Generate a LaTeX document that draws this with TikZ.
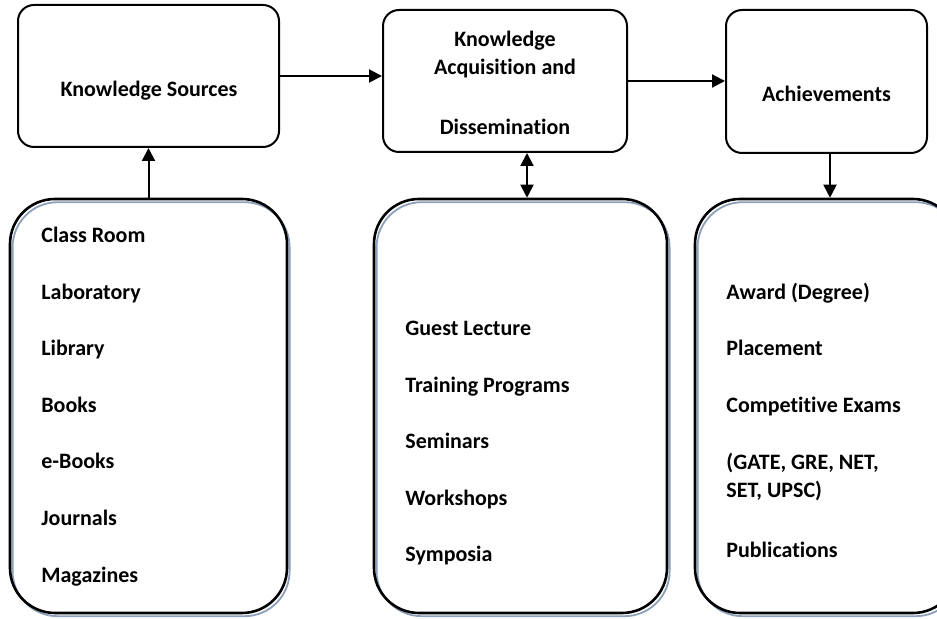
\documentclass[tikz,border=0pt]{standalone}
\usepackage{fontspec}
\setmainfont{Carlito}[Ligatures={NoCommon}]
\usetikzlibrary{arrows.meta}
\definecolor{shadowblue}{RGB}{140,160,185}
\tikzset{
  topbox/.style={draw, rounded corners=8pt, line width=1pt, inner sep=0pt},
  listbox/.style={draw, rounded corners=22.5pt, line width=1.3pt, inner sep=0pt,
    preaction={draw=shadowblue, line width=0.9pt, transform canvas={shift={(1.3pt,-1.6pt)}}}},
  lbl/.style={anchor=base, inner sep=0pt},
  listentry/.style={anchor=base west, inner sep=0pt},
  arr/.style={line width=1pt, -{Triangle[length=6.5pt,width=6.5pt]}},
  dblarr/.style={line width=1pt, {Triangle[length=6.5pt,width=6.5pt]}-{Triangle[length=6.5pt,width=6.5pt]}},
}
\begin{document}
\begin{tikzpicture}[x=0.5pt, y=-0.5pt, font=\fontsize{11}{13}\selectfont\bfseries]

    \useasboundingbox (0,0) rectangle (937,619);
    \clip (0,0) rectangle (937,619);

    \node[topbox, minimum width=130.5pt, minimum height=71pt] (kso) at (148.5,76) {};
    \node[topbox, minimum width=122pt, minimum height=71pt] (kad) at (505,81) {};
    \node[topbox, minimum width=100.5pt, minimum height=71.5pt] (ach) at (826.5,81.5) {};

    \node[lbl] (ksotxt) at (149,97) {Knowledge Sources};
    \node[lbl] (kadtxt1) at (505,47) {Knowledge};
    \node[lbl] (kadtxt2) at (505,75) {Acquisition and};
    \node[lbl] (kadtxt3) at (505,135) {Dissemination};
    \node[lbl] (achtxt) at (826.5,102) {Achievements};

    \node[listbox, minimum width=138.5pt, minimum height=207pt] (src) at (148.5,406) {};
    \node[listbox, minimum width=146.5pt, minimum height=207pt] (dis) at (520.5,406) {};
    \node[listbox, minimum width=131.5pt, minimum height=207pt] (res) at (826.5,406) {};

    \node[listentry] (cls) at (41,243) {Class Room};
    \node[listentry] (lab) at (41,300) {Laboratory};
    \node[listentry] (lib) at (41,356) {Library};
    \node[listentry] (bks) at (41,413) {Books};
    \node[listentry] (ebk) at (41,469) {e-Books};
    \node[listentry] (jrn) at (41,526) {Journals};
    \node[listentry] (mag) at (41,583) {Magazines};

    \node[listentry] (gst) at (405,336) {Guest Lecture};
    \node[listentry] (trn) at (405,393) {Training Programs};
    \node[listentry] (sem) at (405,449) {Seminars};
    \node[listentry] (wrk) at (405,506) {Workshops};
    \node[listentry] (sym) at (405,562) {Symposia};

    \node[listentry] (awd) at (726,300) {Award (Degree)};
    \node[listentry] (plc) at (726,356) {Placement};
    \node[listentry] (cex) at (726,413) {Competitive Exams};
    \node[listentry] (gat) at (726,470) {(GATE, GRE, NET,};
    \node[listentry] (ups) at (726,498) {SET, UPSC)};
    \node[listentry] (pub) at (726,558) {Publications};

    \draw[arr] (kso) -- (kso -| kad.west);
    \draw[arr] (kad) -- (kad -| ach.west);
    \draw[arr] (src) -- (kso);
    \draw[dblarr] ([xshift=11pt]kad.south) -- ([xshift=11pt]kad.south |- dis.north);
    \draw[arr] ([xshift=1.75pt]ach.south) -- ([xshift=1.75pt]ach.south |- res.north);

  \end{tikzpicture}
\end{document}
